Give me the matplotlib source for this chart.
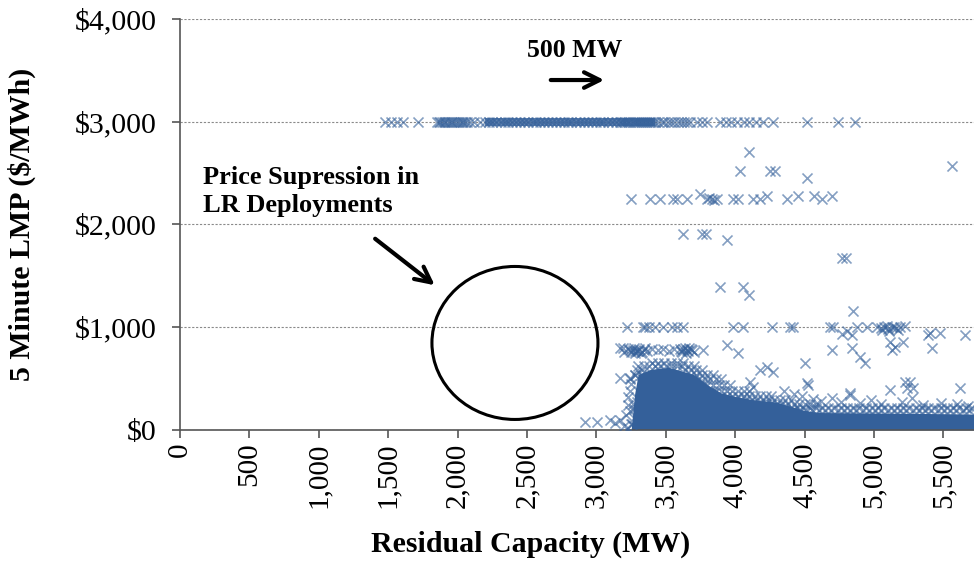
import matplotlib.pyplot as plt
from matplotlib.patches import Ellipse

plt.rcParams["font.family"] = ["Liberation Serif", "DejaVu Serif"]

# LMP stuck at the $3,000 cap
cap_x = [1477, 1520, 1563, 1607, 1715,
         1852, 1864, 1875, 1888, 1900, 1912, 1924, 1937, 1950, 1962, 1975, 1988,
         2000, 2015, 2030, 2042, 2055, 2070, 2089, 2120, 2160,
         2197, 2225, 2250, 2280, 2310, 2340, 2365, 2395, 2420, 2450, 2480, 2510,
         2540, 2565, 2595, 2620, 2650, 2680, 2710, 2740, 2765, 2795, 2820, 2850,
         2880, 2910, 2940, 2965, 2995, 3025, 3050, 3080, 3110, 3140, 3170,
         3185, 3200, 3215, 3230, 3245, 3260, 3275, 3290, 3305, 3320, 3335, 3350,
         3365, 3380, 3395, 3410, 3425, 3445, 3470, 3490, 3515, 3540, 3560, 3585,
         3610, 3630, 3655, 3674, 3725, 3760, 3797, 3890, 3935, 3970, 4010, 4060,
         4100, 4150, 4200, 4272, 4517, 4741, 4863]
# stretch of the $3,000 line that is solid with overlapping marks
cap_solid_x = [2195, 3425]

# points around $2,250
mid_x = [3249, 3386, 3458, 3552, 3581, 3653, 3746, 3797, 3810, 3833, 3850, 3869,
         3984, 4020, 4128, 4179, 4229, 4373, 4452, 4568, 4625, 4697]
mid_y = [2248, 2248, 2248, 2248, 2248, 2248, 2300, 2248, 2260, 2248, 2240, 2248,
         2248, 2248, 2248, 2248, 2280, 2248, 2280, 2280, 2248, 2280]

# isolated high prices
high_x = [4099, 4035, 4251, 4287, 4517, 5562, 3624, 3761, 3790, 3941, 4769, 4800,
          3891, 4056, 4099, 4849]
high_y = [2705, 2521, 2521, 2521, 2452, 2569, 1908, 1908, 1908, 1849, 1674, 1674,
          1392, 1392, 1314, 1158]

# points near $1,000
k_x = [3220, 3336, 3350, 3380, 3422, 3480, 3545, 3581, 3624, 3984, 4056, 4265,
       4395, 4416, 4683, 4705, 4877, 4950, 5022, 5050, 5075, 5100, 5130, 5160,
       5187, 5223, 4769, 4805, 4841, 5115, 5151, 5130, 5209, 5389, 5403, 5475,
       5418, 5656, 4697, 4841, 4899, 4935, 4503, 5060, 5090, 5110, 5145, 5170]
k_y = [1000, 1000, 1000, 1000, 1000, 1000, 1000, 1000, 1000, 1000, 1000, 1000,
       1000, 1000, 1000, 1000, 1000, 1000, 1000, 990, 1000, 980, 1000, 990,
       1000, 1010, 930, 960, 920, 856, 808, 778, 856, 925, 944, 944,
       798, 925, 778, 798, 710, 652, 652, 970, 1010, 960, 1000, 975]

# cluster around $800
e_x = [3170, 3191, 3200, 3230, 3250, 3262, 3270, 3280, 3290, 3310, 3330, 3350,
       3365, 3400, 3440, 3480, 3520, 3560, 3600, 3612, 3620, 3640, 3650, 3660,
       3680, 3700, 3768, 3941, 4020, 3240, 3275, 3300, 3320, 3340, 3625, 3645,
       3670, 3690]
e_y = [800, 798, 760, 790, 760, 780, 800, 765, 770, 790, 760, 800,
       770, 790, 780, 790, 770, 790, 790, 770, 760, 800, 780, 770,
       790, 760, 780, 827, 749, 775, 745, 770, 745, 780, 790, 750,
       800, 775]

# scattered points between $0 and $650
s_x = [3170, 3242, 3228, 3292, 2918, 3004, 3098, 3134, 3170, 4179, 4229, 4272,
       4107, 4128, 4517, 4524, 4827, 4827, 5115, 5223, 5259, 5238, 5281, 5274,
       5620, 4350, 4420, 4480, 4560, 4620, 4700, 4760, 4900, 4980, 5050, 5200,
       5350, 5480, 5600, 5680, 3200, 3250, 3270, 3210,
       3240, 3250, 3245, 3230, 3260, 3240, 3270, 3255, 3225, 3280]
s_y = [506, 506, 243, 272, 78, 78, 97, 68, 97, 584, 613, 564,
       467, 418, 457, 438, 360, 341, 389, 467, 467, 409, 409, 311,
       409, 380, 350, 330, 300, 280, 310, 270, 260, 290, 250, 270,
       240, 260, 250, 230, 40, 60, 200, 150,
       500, 450, 380, 320, 250, 180, 120, 60, 20, 540]

# fuzzy upper edge of the dense cloud, read row by row
dense_levels = [650, 620, 580, 540, 500, 440, 380, 330, 290, 250, 215, 190]
dense_rows = [
    [3400, 3445, 3490, 3535, 3580, 3625],
    [3300, 3340, 3380, 3420, 3460, 3500, 3540, 3580, 3620, 3660, 3700],
    [3290, 3330, 3640, 3680, 3720, 3760],
    [3280, 3320, 3680, 3720, 3760, 3800, 3840],
    [3700, 3740, 3780, 3820, 3860, 3900],
    [3760, 3800, 3840, 3880, 3920, 3960],
    [3820, 3860, 3900, 3940, 3980, 4020, 4060, 4100],
    [3900, 3940, 3980, 4020, 4060, 4100, 4140, 4180, 4220, 4260],
    [4000, 4040, 4080, 4120, 4160, 4200, 4240, 4280, 4320, 4360, 4400],
    [4180, 4220, 4260, 4300, 4340, 4380, 4420, 4460, 4500, 4540, 4580],
    [4400, 4445, 4490, 4535, 4580, 4625, 4670, 4715, 4760, 4805, 4850, 4895,
     4940, 4985, 5030, 5075, 5120, 5165, 5210, 5255, 5300, 5345, 5390, 5435,
     5480, 5525, 5570, 5615, 5660, 5705],
    [4420, 4465, 4510, 4555, 4600, 4648, 4693, 4738, 4783, 4828, 4873, 4918,
     4963, 5008, 5053, 5098, 5143, 5188, 5233, 5278, 5323, 5368, 5413, 5458,
     5503, 5548, 5593, 5638, 5683],
]

# outline of the part of the cloud where marks merge into a solid mass
cloud_x = [3250, 3275, 3300, 3390, 3520, 3600, 3700, 3750, 3810, 3900, 4020,
           4150, 4300, 4400, 4500, 4600, 5000, 5400, 5720]
cloud_top = [0, 350, 540, 590, 610, 580, 540, 490, 430, 360, 320,
             290, 270, 230, 190, 170, 165, 160, 155]

x_ticks = [0, 500, 1000, 1500, 2000, 2500, 3000, 3500, 4000, 4500, 5000, 5500]
y_ticks = [0, 1000, 2000, 3000, 4000]

xs = cap_x + mid_x + high_x + k_x + e_x + s_x
ys = [3000] * len(cap_x) + mid_y + high_y + k_y + e_y + s_y
for lvl, row in zip(dense_levels, dense_rows):
    xs += row
    ys += [lvl] * len(row)

blue = "#34609a"

fig = plt.figure(figsize=(9.74, 5.62), dpi=100)
ax = fig.add_axes([0.1848, 0.2349, 0.8152, 0.7313])

ax.fill_between(cloud_x, 0, cloud_top, color=blue, linewidth=0, zorder=2)
ax.fill_between(cap_solid_x, 2962, 3038, color=blue, alpha=0.8, linewidth=0, zorder=2)
ax.scatter(xs, ys, marker="x", s=52, linewidths=1.2, color=blue, alpha=0.6, zorder=3)

ax.set_xlim(0, 5720)
ax.set_ylim(0, 4000)
ax.set_xticks(x_ticks)
ax.set_xticklabels([f"{v:,}" for v in x_ticks], rotation=90, fontsize=21)
ax.set_yticks(y_ticks)
ax.set_yticklabels([f"${v:,}" for v in y_ticks], fontsize=21.5)
ax.tick_params(axis="both", direction="out", length=6, width=1.2, color="#555555")
ax.tick_params(axis="y", pad=11)
ax.tick_params(axis="x", pad=3)
for s in ["top", "right"]:
    ax.spines[s].set_visible(False)
for s in ["left", "bottom"]:
    ax.spines[s].set_color("#555555")
    ax.spines[s].set_linewidth(1.2)
ax.yaxis.grid(True, color="#8a8a8a", linestyle=(0, (2, 1.5)), linewidth=0.8)
ax.set_axisbelow(True)

ax.set_xlabel("Residual Capacity (MW)", fontsize=21.5, fontweight="bold")
ax.xaxis.set_label_coords(0.441, -0.245)
ax.set_ylabel("5 Minute LMP ($/MWh)", fontsize=21.5, fontweight="bold")
ax.yaxis.set_label_coords(-0.181, 0.5)

ax.text(2846, 3698, "500 MW", fontsize=18.5, fontweight="bold", ha="center", va="center")
ax.annotate("", xy=(3076, 3406), xytext=(2651, 3406),
            arrowprops=dict(arrowstyle="->", lw=3, mutation_scale=28, color="black"))
ax.text(166, 2321, "Price Supression in\nLR Deployments", fontsize=19,
        fontweight="bold", ha="left", va="center", linespacing=1.3)
ax.annotate("", xy=(1851, 1392), xytext=(1390, 1878),
            arrowprops=dict(arrowstyle="->", lw=3, mutation_scale=28, color="black"))
ax.add_patch(Ellipse((2413, 847), width=1196, height=1489, fill=False,
                     edgecolor="black", linewidth=2.2, zorder=4))

fig.savefig("out.png", dpi=100)
